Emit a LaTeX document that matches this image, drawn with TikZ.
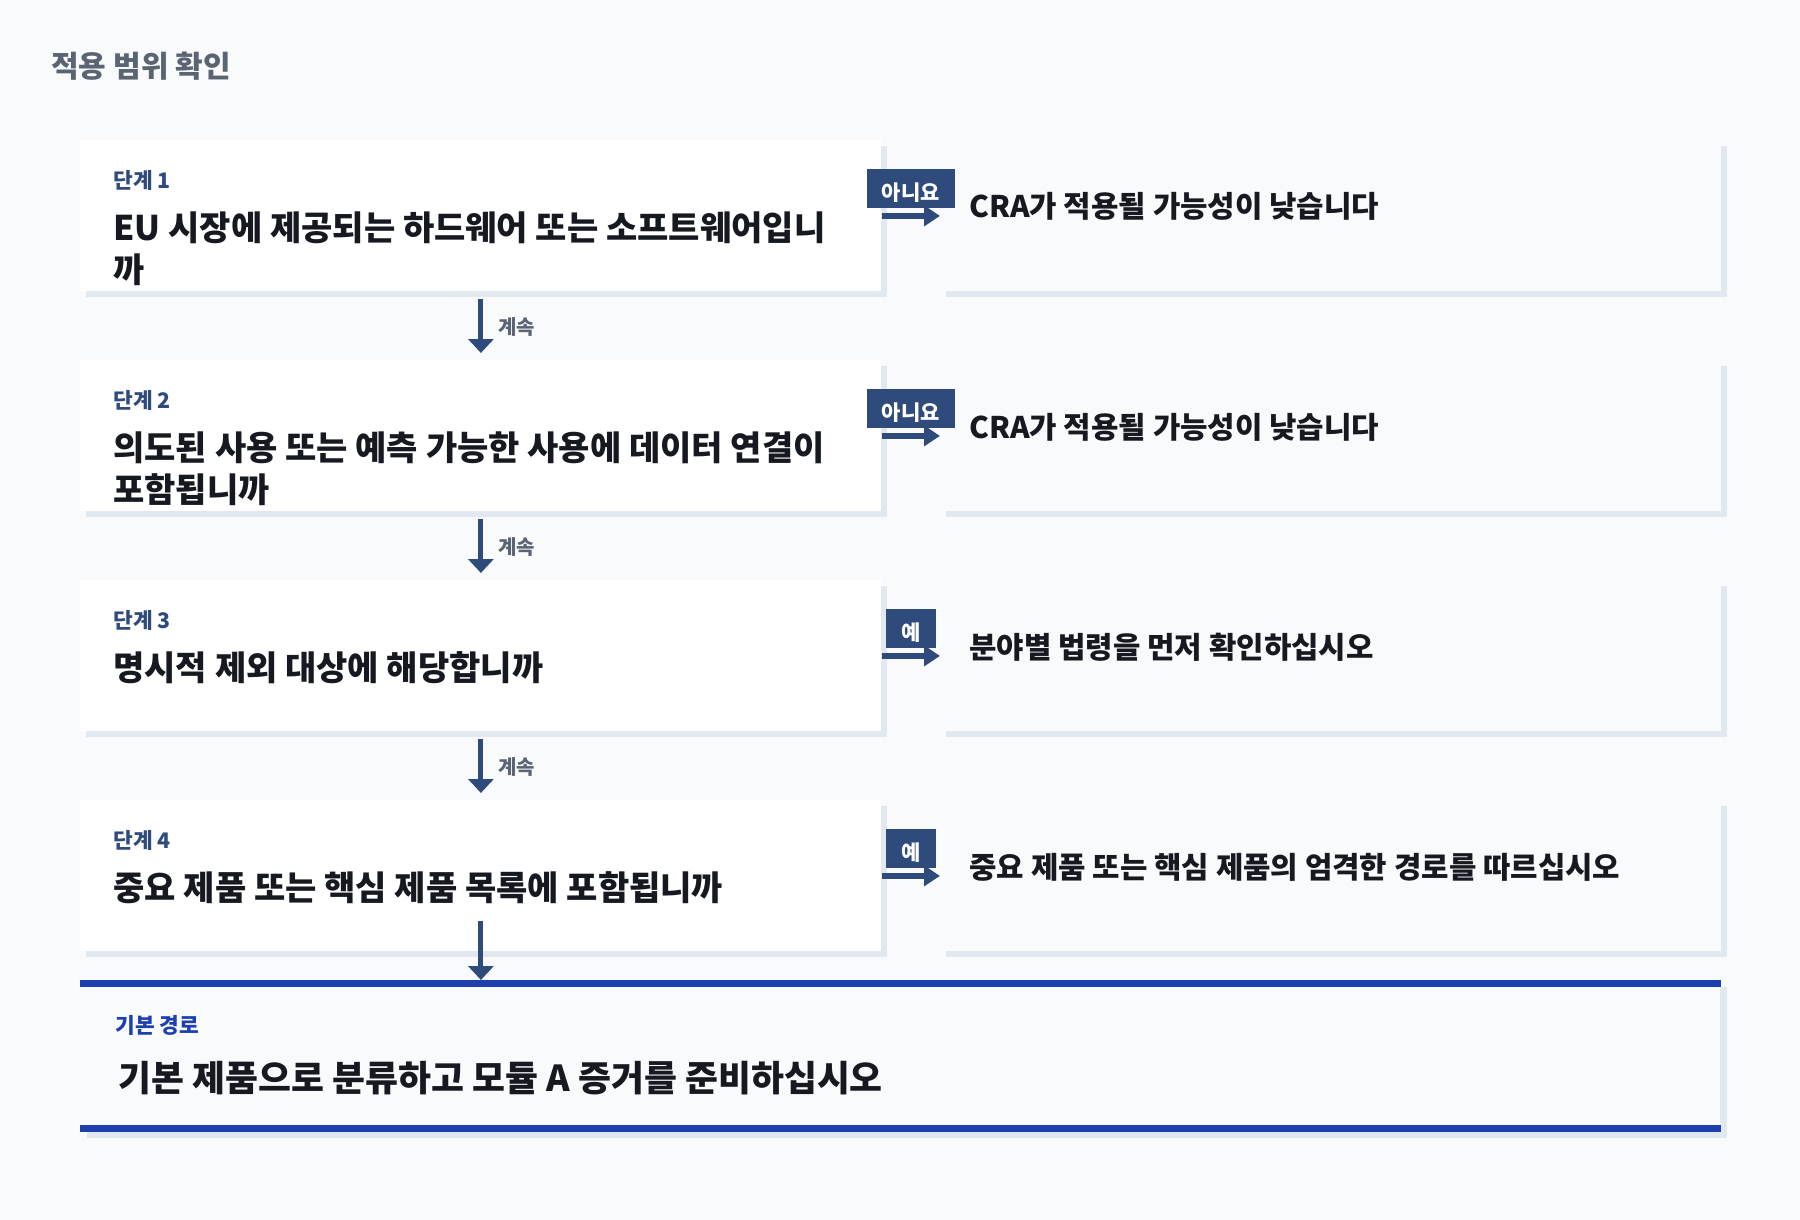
\documentclass[tikz,border=0pt]{standalone}
\usepackage{fontspec}
\setmainfont{Noto Sans CJK KR}
\usetikzlibrary{arrows.meta,calc}
\definecolor{bgc}{HTML}{F8FAFC}
\definecolor{shadowc}{HTML}{E2E8F0}
\definecolor{navy}{HTML}{2F4B7C}
\definecolor{bluebar}{HTML}{1E40AF}
\definecolor{graytxt}{HTML}{5B6473}
\definecolor{inkc}{HTML}{16191F}
\begin{document}
\begin{tikzpicture}[x=0.5pt,y=-0.5pt,
  stepcard/.style={fill=white, draw=none, minimum width=400.5pt, minimum height=75.5pt, inner sep=0pt, anchor=north west},
  resultcard/.style={fill=bgc, draw=none, minimum width=390.5pt, minimum height=75.5pt, inner sep=0pt, anchor=north west},
  finalbox/.style={fill=bgc, draw=none, minimum width=820pt, minimum height=75.5pt, inner sep=0pt, anchor=north west},
  steplabel/.style={anchor=base west, inner sep=0pt, text=navy, font=\bfseries\fontsize{10.7}{12}\selectfont},
  finallabel/.style={anchor=base west, inner sep=0pt, text=bluebar, font=\bfseries\fontsize{10.7}{12}\selectfont},
  question/.style={anchor=base west, inner sep=0pt, text=inkc, font=\bfseries\fontsize{17}{21}\selectfont},
  finaltext/.style={anchor=base west, inner sep=0pt, text=inkc, font=\bfseries\fontsize{17.9}{21}\selectfont},
  outcome/.style={anchor=base west, inner sep=0pt, text=inkc, font=\bfseries\fontsize{14.9}{17}\selectfont},
  badge/.style={fill=navy, text=white, font=\bfseries\fontsize{10.5}{11}\selectfont, inner xsep=7.5pt, inner ysep=2.5pt, text height=13pt, text depth=1.5pt, anchor=center},
  contlabel/.style={anchor=base west, inner sep=0pt, text=graytxt, font=\bfseries\fontsize{10}{11}\selectfont},
  titlestyle/.style={anchor=base west, inner sep=0pt, text=graytxt, font=\bfseries\fontsize{15}{17}\selectfont},
  varrow/.style={draw=navy, line width=2.5pt, -{Triangle[length=7pt,width=12.5pt]}},
  harrow/.style={draw=navy, line width=2.75pt, -{Triangle[length=8pt,width=10pt]}},
  shadowfill/.style={fill=shadowc}
]
\useasboundingbox (0,0) rectangle (1800,1220);
\fill[bgc] (0,0) rectangle (1800,1220);

\node[titlestyle] (title) at (51,78) {적용 범위 확인};

% shadows of step cards and result cards
\foreach \t in {140,360,580,800} {
  \fill[shadowfill] (86,\t+6) rectangle (887,\t+157);
  \fill[shadowfill] (946,\t+6) rectangle (1727,\t+157);
}
% step cards
\node[stepcard] (s1) at (80,140) {};
\node[stepcard] (s2) at (80,360) {};
\node[stepcard] (s3) at (80,580) {};
\node[stepcard] (s4) at (80,800) {};
% result cards
\node[resultcard] (r1) at (940,140) {};
\node[resultcard] (r2) at (940,360) {};
\node[resultcard] (r3) at (940,580) {};
\node[resultcard] (r4) at (940,800) {};

% step texts
\node[steplabel] (s1l) at ($(s1.north west)+(33,48.5)$) {단계 1};
\node[question] (s1q) at ($(s1.north west)+(33,100)$) {\vtop{\hbox{EU 시장에 제공되는 하드웨어 또는 소프트웨어입니}\hbox{까}}};
\node[steplabel] (s2l) at ($(s2.north west)+(33,48.5)$) {단계 2};
\node[question] (s2q) at ($(s2.north west)+(33,100)$) {\vtop{\hbox{의도된 사용 또는 예측 가능한 사용에 데이터 연결이}\hbox{포함됩니까}}};
\node[steplabel] (s3l) at ($(s3.north west)+(33,48.5)$) {단계 3};
\node[question] (s3q) at ($(s3.north west)+(33,100)$) {명시적 제외 대상에 해당합니까};
\node[steplabel] (s4l) at ($(s4.north west)+(33,48.5)$) {단계 4};
\node[question] (s4q) at ($(s4.north west)+(33,100)$) {중요 제품 또는 핵심 제품 목록에 포함됩니까};

% outcome texts
\node[outcome] (r1t) at ($(r1.north west)+(29,78)$) {CRA가 적용될 가능성이 낮습니다};
\node[outcome] (r2t) at ($(r2.north west)+(29,78)$) {CRA가 적용될 가능성이 낮습니다};
\node[outcome] (r3t) at ($(r3.north west)+(29,78)$) {분야별 법령을 먼저 확인하십시오};
\node[outcome] (r4t) at ($(r4.north west)+(29,78)$) {중요 제품 또는 핵심 제품의 엄격한 경로를 따르십시오};

% horizontal arrows and badges
\draw[harrow] (s1.east) -- (r1.west);
\draw[harrow] (s2.east) -- (r2.west);
\draw[harrow] (s3.east) -- (r3.west);
\draw[harrow] (s4.east) -- (r4.west);
\node[badge] (b1) at ($($(s1.east)!0.5!(r1.west)$)+(0,-27)$) {아니요};
\node[badge] (b2) at ($($(s2.east)!0.5!(r2.west)$)+(0,-27)$) {아니요};
\node[badge] (b3) at ($($(s3.east)!0.5!(r3.west)$)+(0,-27)$) {예};
\node[badge] (b4) at ($($(s4.east)!0.5!(r4.west)$)+(0,-27)$) {예};

% vertical arrows
\draw[varrow] ($(s1.south)+(0,7)$) -- ($(s2.north)+(0,-7)$);
\draw[varrow] ($(s2.south)+(0,7)$) -- ($(s3.north)+(0,-7)$);
\draw[varrow] ($(s3.south)+(0,7)$) -- ($(s4.north)+(0,-7)$);
\node[contlabel] (c1) at ($(s1.south)+(17,43)$) {계속};
\node[contlabel] (c2) at ($(s2.south)+(17,43)$) {계속};
\node[contlabel] (c3) at ($(s3.south)+(17,43)$) {계속};

% final box
\fill[shadowfill] (87,987) rectangle (1727,1138);
\node[finalbox] (fb) at (80,980) {};
\fill[bluebar] (fb.north west) rectangle ($(fb.north east)+(0,7)$);
\fill[bluebar] ($(fb.south west)+(0,-7)$) rectangle (fb.south east);
\node[finallabel] (fbl) at ($(fb.north west)+(35,53.5)$) {기본 경로};
\node[finaltext] (fbt) at ($(fb.north west)+(38,111)$) {기본 제품으로 분류하고 모듈 A 증거를 준비하십시오};

\draw[varrow] ($(s4.south)+(0,-31)$) -- (s4.south |- fb.north);
\end{tikzpicture}
\end{document}
